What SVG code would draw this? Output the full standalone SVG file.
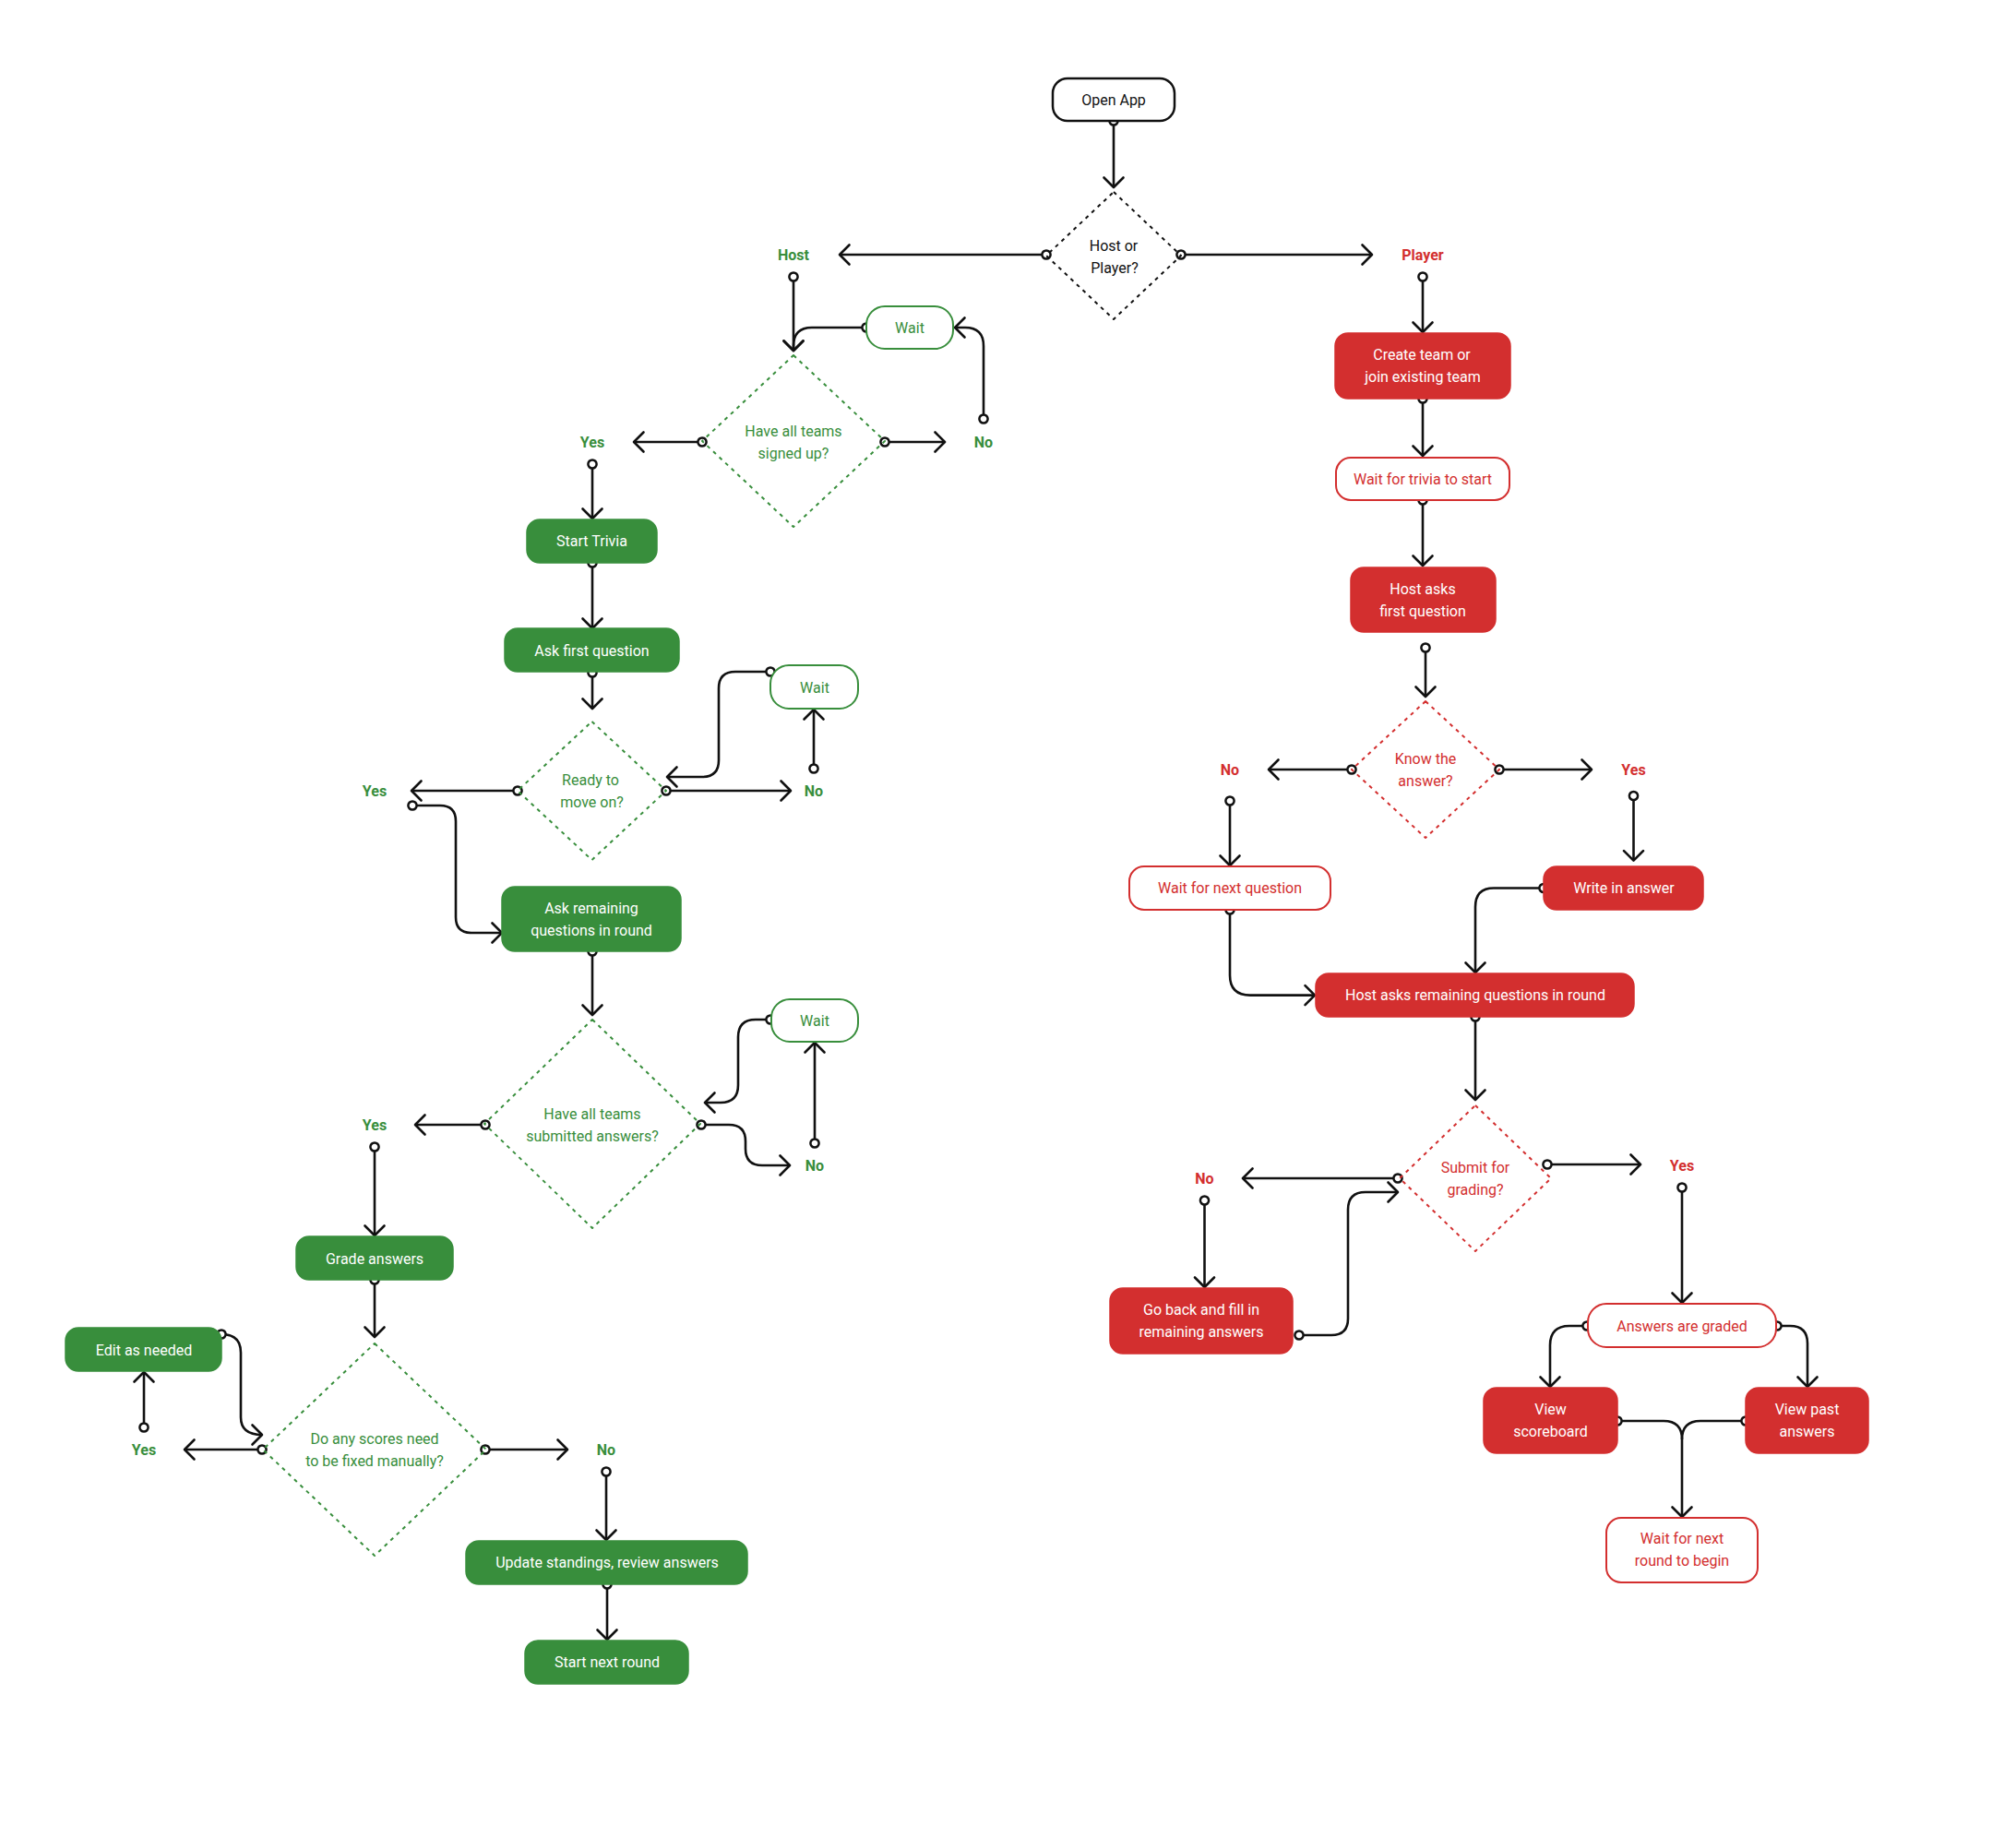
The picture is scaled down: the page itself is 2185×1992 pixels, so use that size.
<svg xmlns="http://www.w3.org/2000/svg" width="2185" height="1992" viewBox="0 0 2185 1992">
<style>
text{font-family:Roboto,"Liberation Sans",sans-serif;font-size:16px;text-anchor:middle;dominant-baseline:central}
.tw{fill:#ffffff}
.tg{fill:#388E3C}
.tr{fill:#D32F2F}
.tk{fill:#111111}
.lab{font-weight:bold}
.fg{fill:#388E3C;stroke:#388E3C;stroke-width:1.5}
.fr{fill:#D32F2F;stroke:#D32F2F;stroke-width:1.5}
.og{fill:#ffffff;stroke:#388E3C;stroke-width:2}
.or{fill:#ffffff;stroke:#D32F2F;stroke-width:2}
.ok{fill:#ffffff;stroke:#111111;stroke-width:2.5}
.dg{fill:none;stroke:#388E3C;stroke-width:2;stroke-dasharray:4 5;stroke-linejoin:round}
.dr{fill:none;stroke:#D32F2F;stroke-width:2;stroke-dasharray:4 5;stroke-linejoin:round}
.dk{fill:none;stroke:#111111;stroke-width:2;stroke-dasharray:4 5;stroke-linejoin:round}
.c{fill:none;stroke:#111111;stroke-width:2.6;marker-start:url(#dot);marker-end:url(#arr)}
.cn{fill:none;stroke:#111111;stroke-width:2.6;marker-start:url(#dot)}
</style>
<defs>
<marker id="arr" viewBox="-14 -14 16 28" refX="0" refY="0" markerWidth="16" markerHeight="28" markerUnits="userSpaceOnUse" orient="auto" overflow="visible">
<path d="M-10.5,-10.5 L0,0 L-10.5,10.5" fill="none" stroke="#111111" stroke-width="2.6" stroke-linecap="round" stroke-linejoin="round"/>
</marker>
<marker id="dot" viewBox="-8 -8 16 16" refX="0" refY="0" markerWidth="16" markerHeight="16" markerUnits="userSpaceOnUse" orient="auto" overflow="visible">
<circle cx="0" cy="0" r="4.6" fill="#ffffff" stroke="#111111" stroke-width="2.5"/>
</marker>
</defs>
<rect width="2185" height="1992" fill="#ffffff"/>

<g id="connectors">
<path class="c" d="M1207,131 V203"/>
<path class="c" d="M1134,276 H910"/>
<path class="c" d="M1280,276 H1487"/>
<path class="c" d="M860,300 V380"/>
<path class="c" d="M939,355 H880 Q860,355 860,375 V380"/>
<path class="c" d="M761,479 H687"/>
<path class="c" d="M959,479 H1024"/>
<path class="c" d="M1066,454 V375 Q1066,355 1046,355 H1035"/>
<path class="c" d="M642,503 V562"/>
<path class="c" d="M642,610 V681"/>
<path class="c" d="M642,729 V768"/>
<path class="c" d="M561,857 H446"/>
<path class="c" d="M722,857 H857"/>
<path class="c" d="M882,833 V769"/>
<path class="c" d="M835,728 H797 Q779,728 779,746 V824 Q779,842 761,842 H723"/>
<path class="c" d="M447,873 H477 Q494,873 494,890 V994 Q494,1011 511,1011 H544"/>
<path class="c" d="M642,1031 V1100"/>
<path class="c" d="M526,1219 H450"/>
<path class="c" d="M760,1219 H790 Q808,1219 808,1237 V1245 Q808,1263 826,1263 H856"/>
<path class="c" d="M883,1239 V1130"/>
<path class="c" d="M835,1105 H819 Q800,1105 800,1124 V1176 Q800,1195 781,1195 H764"/>
<path class="c" d="M406,1243 V1339"/>
<path class="c" d="M406,1387 V1449"/>
<path class="c" d="M284,1571 H200"/>
<path class="c" d="M526,1571 H615"/>
<path class="c" d="M156,1547 V1487"/>
<path class="c" d="M240,1446 Q261,1446 261,1466 V1536 Q261,1555 284,1555"/>
<path class="c" d="M657,1595 V1669"/>
<path class="c" d="M658,1717 V1777"/>

<path class="c" d="M1542,300 V360"/>
<path class="c" d="M1542,432 V494"/>
<path class="c" d="M1542,542 V613"/>
<path class="c" d="M1545,702 V755"/>
<path class="c" d="M1465,834 H1375"/>
<path class="c" d="M1625,834 H1725"/>
<path class="c" d="M1333,868 V938"/>
<path class="c" d="M1770.5,862.5 V932.6"/>
<path class="c" d="M1673,962.5 H1619 Q1599,962.5 1599,983 V1054"/>
<path class="c" d="M1333,986 V1057 Q1333,1078.6 1355,1078.6 H1425"/>
<path class="c" d="M1599,1102 V1192"/>
<path class="c" d="M1515,1277 H1347"/>
<path class="c" d="M1677,1262 H1778"/>
<path class="c" d="M1305.5,1301 V1395"/>
<path class="c" d="M1408,1447 H1443 Q1461,1447 1461,1429 V1311 Q1461,1292 1480,1292 H1515"/>
<path class="c" d="M1823,1287 V1412"/>
<path class="c" d="M1720,1437 H1701 Q1680,1437 1680,1458 V1503"/>
<path class="c" d="M1926,1437 H1940 Q1959,1437 1959,1456 V1503"/>
<path class="c" d="M1753,1540 H1803 Q1823,1540 1823,1560 V1644"/>
<path class="cn" d="M1892,1540 H1843 Q1823,1540 1823,1560"/>
</g>

<g id="open-app"><rect class="ok" x="1141" y="85" width="132" height="46" rx="16"/><text class="tk" x="1207" y="108">Open App</text></g>
<g id="host-or-player"><path class="dk" d="M1207,208 L1280,277 L1207,346 L1134,277 Z"/><text class="tk" x="1207" y="266">Host or</text><text class="tk" x="1208" y="290">Player?</text></g>
<g id="label-host"><text class="tg lab" x="860" y="276">Host</text></g>
<g id="label-player"><text class="tr lab" x="1542" y="276">Player</text></g>

<g id="wait1"><rect class="og" x="939" y="332" width="94" height="46" rx="20"/><text class="tg" x="986" y="355">Wait</text></g>
<g id="all-signed-up"><path class="dg" d="M860,385 L959,478 L860,571 L761,478 Z"/><text class="tg" x="860" y="467">Have all teams</text><text class="tg" x="860" y="491">signed up?</text></g>
<g id="label-yes1"><text class="tg lab" x="642" y="479">Yes</text></g>
<g id="label-no1"><text class="tg lab" x="1066" y="479">No</text></g>
<g id="start-trivia"><rect class="fg" x="571" y="563" width="141" height="47" rx="14"/><text class="tw" x="641.5" y="586.5">Start Trivia</text></g>
<g id="ask-first"><rect class="fg" x="547" y="681" width="189" height="47" rx="14"/><text class="tw" x="641.5" y="705">Ask first question</text></g>
<g id="ready"><path class="dg" d="M641.5,782 L722,857 L641.5,932 L561,857 Z"/><text class="tg" x="640" y="845">Ready to</text><text class="tg" x="641.5" y="869">move on?</text></g>
<g id="wait2"><rect class="og" x="835" y="721" width="95" height="47" rx="20"/><text class="tg" x="883" y="745">Wait</text></g>
<g id="label-yes2"><text class="tg lab" x="406" y="857">Yes</text></g>
<g id="label-no2"><text class="tg lab" x="882" y="857">No</text></g>
<g id="ask-remaining"><rect class="fg" x="544" y="961" width="194" height="70" rx="14"/><text class="tw" x="641" y="984">Ask remaining</text><text class="tw" x="641" y="1008">questions in round</text></g>
<g id="all-submitted"><path class="dg" d="M642,1105 L759,1218 L642,1331 L525,1218 Z"/><text class="tg" x="642" y="1207">Have all teams</text><text class="tg" x="642" y="1231">submitted answers?</text></g>
<g id="wait3"><rect class="og" x="836" y="1083" width="94" height="46" rx="20"/><text class="tg" x="883" y="1106">Wait</text></g>
<g id="label-yes3"><text class="tg lab" x="406" y="1219">Yes</text></g>
<g id="label-no3"><text class="tg lab" x="883" y="1263">No</text></g>
<g id="grade"><rect class="fg" x="321" y="1340" width="170" height="47" rx="14"/><text class="tw" x="406" y="1364">Grade answers</text></g>
<g id="fix-scores"><path class="dg" d="M406,1456 L527,1571 L406,1686 L285,1571 Z"/><text class="tg" x="406" y="1559">Do any scores need</text><text class="tg" x="406" y="1583">to be fixed manually?</text></g>
<g id="edit"><rect class="fg" x="71" y="1439" width="169" height="47" rx="14"/><text class="tw" x="156" y="1463">Edit as needed</text></g>
<g id="label-yes4"><text class="tg lab" x="156" y="1571">Yes</text></g>
<g id="label-no4"><text class="tg lab" x="657" y="1571">No</text></g>
<g id="update"><rect class="fg" x="505" y="1670" width="305" height="47" rx="14"/><text class="tw" x="658" y="1693.5">Update standings, review answers</text></g>
<g id="start-next"><rect class="fg" x="569" y="1778" width="177" height="47" rx="14"/><text class="tw" x="658" y="1801.5">Start next round</text></g>

<g id="create-team"><rect class="fr" x="1447" y="361" width="190" height="71" rx="14"/><text class="tw" x="1541" y="384.5">Create team or</text><text class="tw" x="1542" y="408.5">join existing team</text></g>
<g id="wait-trivia"><rect class="or" x="1448" y="496" width="188" height="46" rx="16"/><text class="tr" x="1542" y="519">Wait for trivia to start</text></g>
<g id="host-asks-first"><rect class="fr" x="1464" y="615" width="157" height="70" rx="14"/><text class="tw" x="1542" y="638">Host asks</text><text class="tw" x="1542" y="662">first question</text></g>
<g id="know-answer"><path class="dr" d="M1545,760 L1625,834 L1545,908 L1465,834 Z"/><text class="tr" x="1545" y="822">Know the</text><text class="tr" x="1545" y="846">answer?</text></g>
<g id="label-no5"><text class="tr lab" x="1333" y="834">No</text></g>
<g id="label-yes5"><text class="tr lab" x="1770.5" y="834">Yes</text></g>
<g id="wait-next-q"><rect class="or" x="1224" y="939" width="218" height="47" rx="16"/><text class="tr" x="1333" y="962.5">Wait for next question</text></g>
<g id="write-answer"><rect class="fr" x="1673" y="939" width="173" height="47" rx="14"/><text class="tw" x="1760" y="962.5">Write in answer</text></g>
<g id="host-asks-remaining"><rect class="fr" x="1426" y="1055" width="345" height="47" rx="14"/><text class="tw" x="1599" y="1078.6">Host asks remaining questions in round</text></g>
<g id="submit"><path class="dr" d="M1599,1198 L1681,1277 L1599,1356 L1517,1277 Z"/><text class="tr" x="1599" y="1265">Submit for</text><text class="tr" x="1599" y="1289">grading?</text></g>
<g id="label-no6"><text class="tr lab" x="1305.5" y="1277">No</text></g>
<g id="label-yes6"><text class="tr lab" x="1823" y="1263">Yes</text></g>
<g id="go-back"><rect class="fr" x="1203" y="1396" width="198" height="71" rx="14"/><text class="tw" x="1302" y="1419">Go back and fill in</text><text class="tw" x="1302" y="1443">remaining answers</text></g>
<g id="graded"><rect class="or" x="1721" y="1413" width="204" height="47" rx="20"/><text class="tr" x="1823" y="1437">Answers are graded</text></g>
<g id="view-scoreboard"><rect class="fr" x="1608" y="1504" width="145" height="71" rx="14"/><text class="tw" x="1680.5" y="1527.5">View</text><text class="tw" x="1680.5" y="1551.5">scoreboard</text></g>
<g id="view-past"><rect class="fr" x="1892" y="1504" width="133" height="71" rx="14"/><text class="tw" x="1958.5" y="1527.5">View past</text><text class="tw" x="1958.5" y="1551.5">answers</text></g>
<g id="wait-next-round"><rect class="or" x="1741" y="1645" width="164" height="70" rx="16"/><text class="tr" x="1823" y="1667.5">Wait for next</text><text class="tr" x="1823" y="1691.5">round to begin</text></g>
</svg>
